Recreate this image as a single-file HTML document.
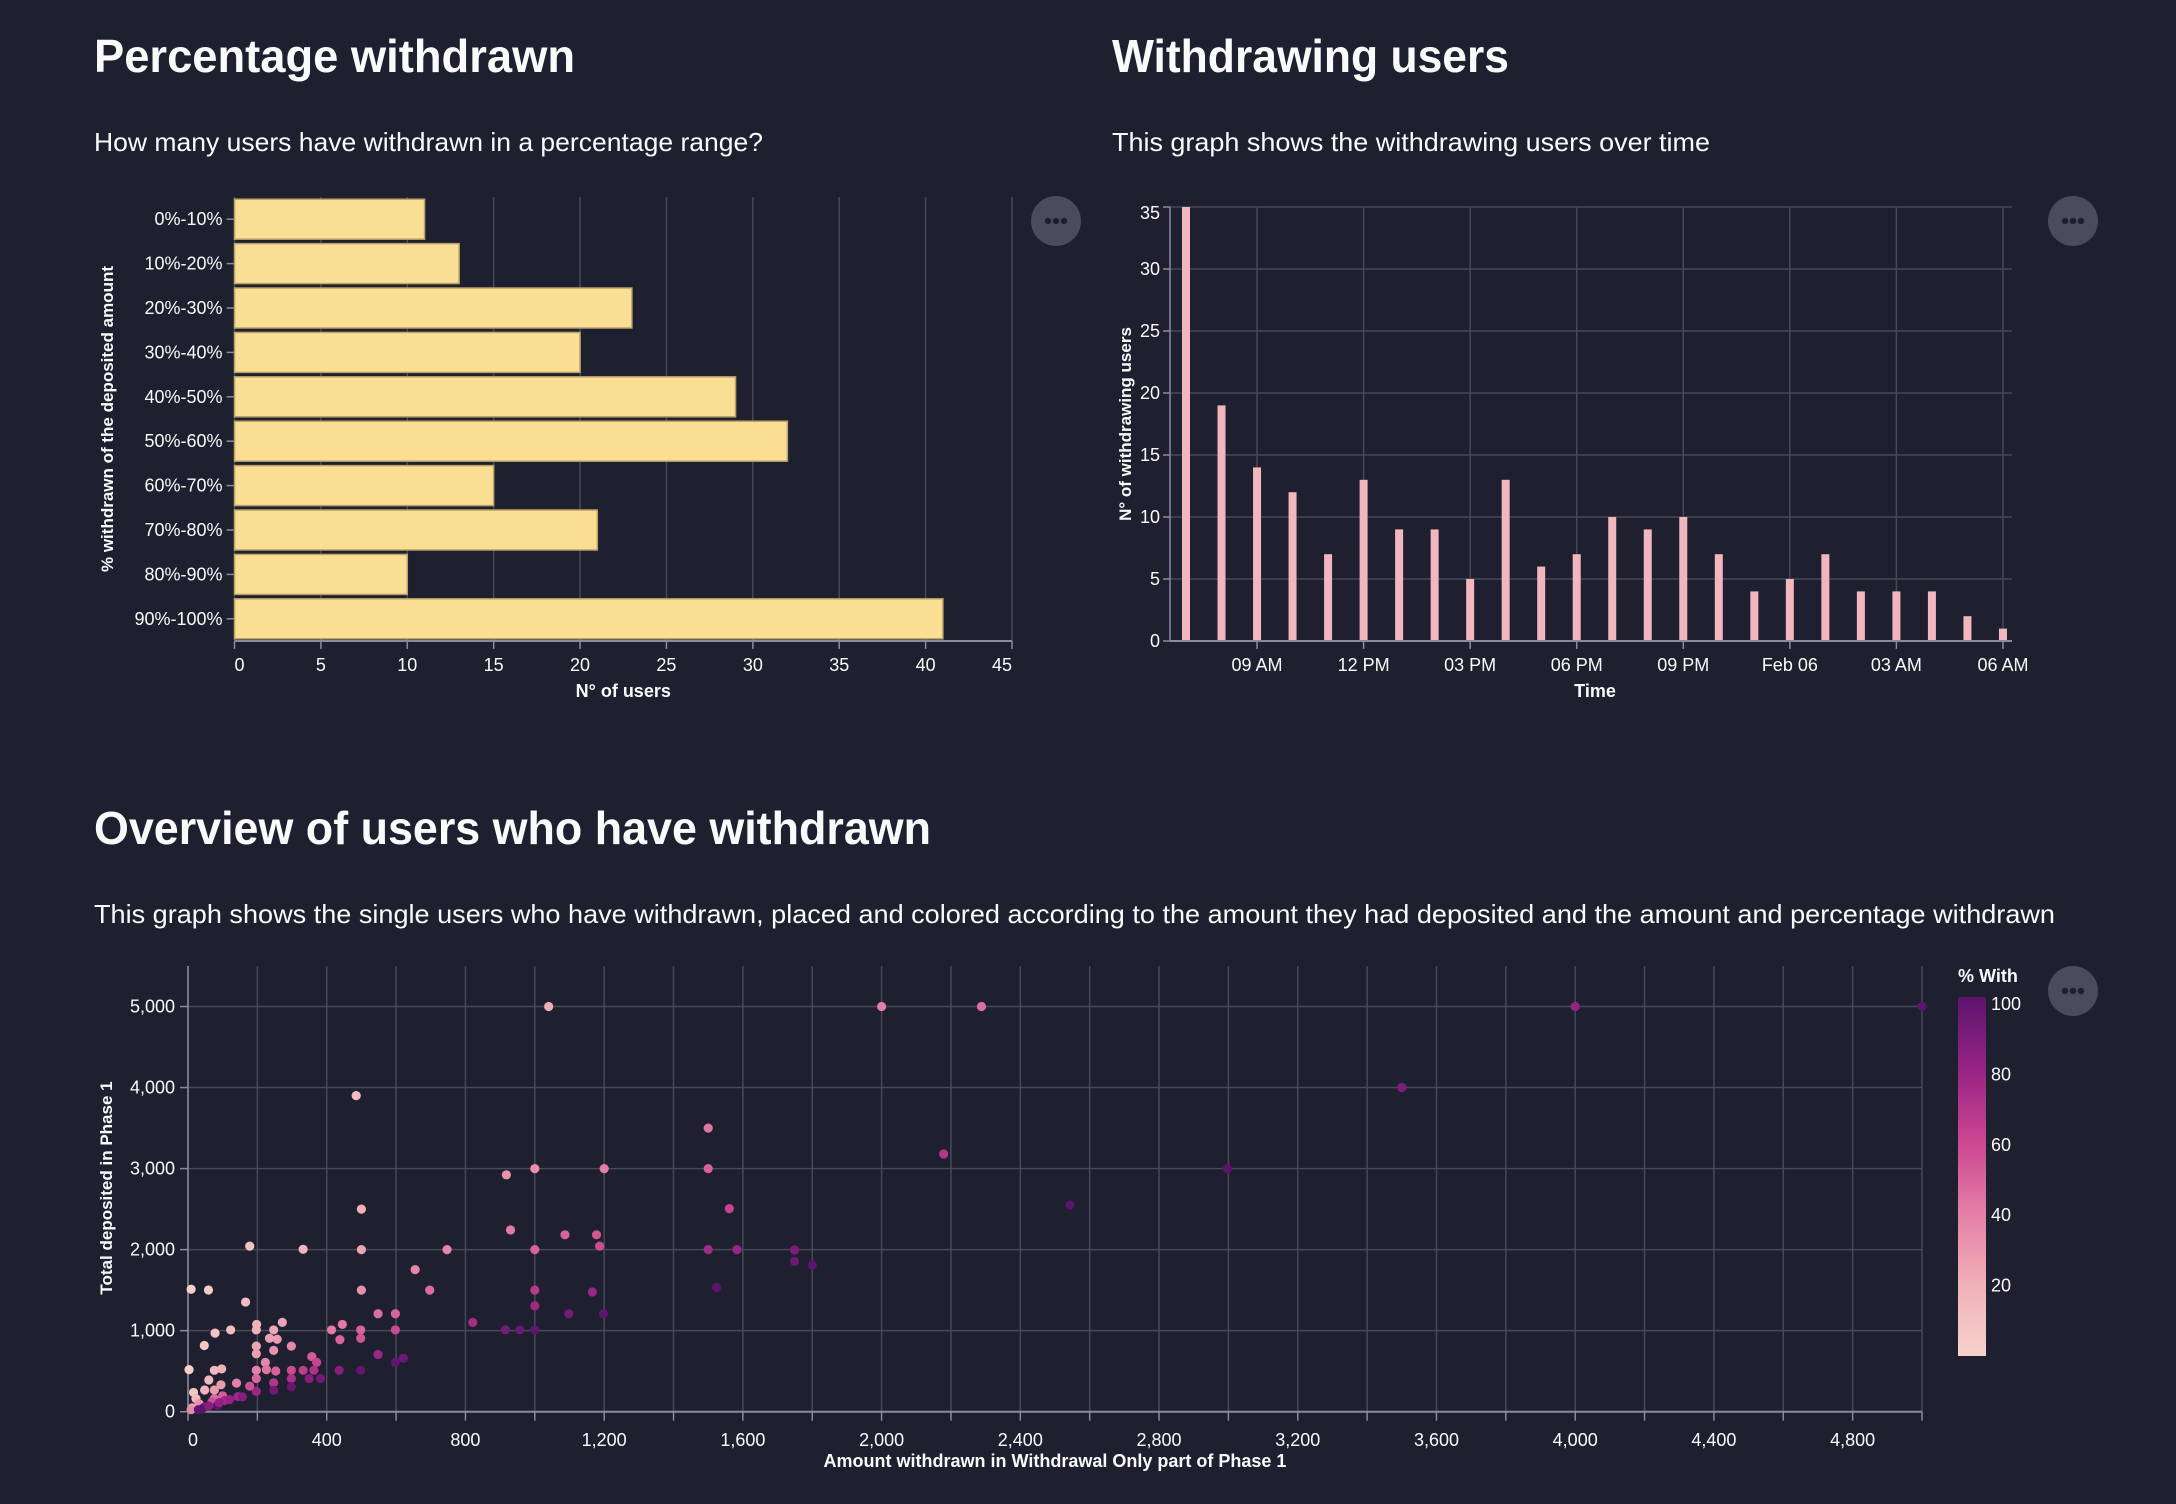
<!DOCTYPE html>
<html><head><meta charset="utf-8">
<style>
html,body{margin:0;padding:0;background:#1e1f2f;}
svg{display:block;font-family:"Liberation Sans",sans-serif;}
</style></head>
<body>
<svg id="root" width="2176" height="1504" viewBox="0 0 2176 1504" xmlns="http://www.w3.org/2000/svg">
<rect x="0" y="0" width="2176" height="1504" fill="#1e1f2f"/>
<text x="94" y="72" font-size="46" font-weight="bold" fill="#fafafa" textLength="481" lengthAdjust="spacingAndGlyphs">Percentage withdrawn</text>
<text x="94" y="151" font-size="26" fill="#fafafa" textLength="669" lengthAdjust="spacingAndGlyphs">How many users have withdrawn in a percentage range?</text>
<text x="1112" y="72" font-size="46" font-weight="bold" fill="#fafafa" textLength="397" lengthAdjust="spacingAndGlyphs">Withdrawing users</text>
<text x="1112" y="151" font-size="26" fill="#fafafa" textLength="598" lengthAdjust="spacingAndGlyphs">This graph shows the withdrawing users over time</text>
<text x="94" y="844" font-size="46" font-weight="bold" fill="#fafafa" textLength="837" lengthAdjust="spacingAndGlyphs">Overview of users who have withdrawn</text>
<text x="94" y="923" font-size="26" fill="#fafafa" textLength="1961" lengthAdjust="spacingAndGlyphs">This graph shows the single users who have withdrawn, placed and colored according to the amount they had deposited and the amount and percentage withdrawn</text>
<g id="c1"></g>
<g id="c2"></g>
<g id="c3"></g>
<g id="menus"></g>
</svg>
<script>
// ---- Chart 1 data ----
const pctCategories = ["0%-10%","10%-20%","20%-30%","30%-40%","40%-50%","50%-60%","60%-70%","70%-80%","80%-90%","90%-100%"];
const pctCounts = [11,13,23,20,29,32,15,21,10,41];
const pctTicks = [0,5,10,15,20,25,30,35,40,45];
// ---- Chart 2 data ----
const hourOffsets = [0,1,2,3,4,5,6,7,8,9,10,11,12,13,14,15,16,17,18,19,20,21,22,23];
const hourCounts = [35,19,14,12,7,13,9,9,5,13,6,7,10,9,10,7,4,5,7,4,4,4,2,1];
const timeTickHours = [2,5,8,11,14,17,20,23];
const timeTickLabels = ["09 AM","12 PM","03 PM","06 PM","09 PM","Feb 06","03 AM","06 AM"];
const countTicks = [0,5,10,15,20,25,30,35];
// ---- Chart 3 data ----
const withdrawn = [1040,485,1500,1500,1000,1200,918,500,1561,930,1087,1178,1187,178,332,500,747,1000,1500,1583,1749,1749,1800,655,9,59,500,697,1000,1166,1524,166,1000,548,598,1098,1198,821,272,445,198,123,414,498,598,915,957,1000,78,247,197,235,257,438,498,47,197,298,247,197,548,621,598,357,371,223,3,76,97,197,226,253,298,332,363,436,498,60,197,247,298,349,382,140,95,16,48,76,197,247,298,178,144,76,100,23,32,69,106,157,12,47,85,9,40,60,90,120,30,2000,2288,4000,5000,3500,2179,2997,2543];
const deposited = [5000,3900,3500,3000,3000,3000,2923,2500,2506,2243,2183,2183,2043,2043,2004,2000,2000,2000,2000,2000,1996,1855,1809,1753,1511,1502,1500,1500,1500,1477,1532,1353,1306,1209,1209,1209,1209,1102,1102,1077,1077,1009,1009,1009,1009,1009,1009,1009,970,1009,1009,906,894,889,906,817,809,809,757,715,706,660,609,680,609,609,519,511,528,511,519,502,511,511,511,511,511,391,409,357,409,409,409,353,332,238,268,268,251,264,306,315,187,162,196,162,98,119,140,183,47,55,77,26,34,70,110,150,25,5000,5000,5000,5000,4000,3180,3000,2550];
const xTicks3 = [0,400,800,1200,1600,2000,2400,2800,3200,3600,4000,4400,4800];
const yTicks3 = [0,1000,2000,3000,4000,5000];
const legendTicks = [20,40,60,80,100];

const NS="http://www.w3.org/2000/svg";
function mk(parent,tag,attrs,text){const e=document.createElementNS(NS,tag);for(const k in attrs)e.setAttribute(k,attrs[k]);if(text!==undefined)e.textContent=text;parent.appendChild(e);return e;}
const GRID="#464958", AXIS="#8a8d98", LBL="#fafafa";

// ---------- Chart 1 ----------
(function(){
const g=document.getElementById('c1');
const x0=234.5,x1=1012,yTop=197,yBot=641;
const xs=v=>x0+(v/45)*(x1-x0);
const band=(yBot-yTop)/pctCategories.length;
pctTicks.forEach(t=>{
  const l=mk(g,'line',{x1:xs(t),x2:xs(t),y1:yTop,y2:yBot,stroke:GRID,'stroke-width':1.5});
  
  
  mk(g,'line',{x1:xs(t),x2:xs(t),y1:yBot,y2:yBot+8,stroke:AXIS,'stroke-width':1.5});
  const tx=mk(g,'text',{x:xs(t),y:671,'font-size':18,fill:LBL,'text-anchor':t===0?'start':(t===45?'end':'middle')},String(t));
  
  
});
pctCategories.forEach((c,i)=>{
  const yc=yTop+band*(i+0.5);
  const r=mk(g,'rect',{x:x0,y:yc-band*0.45,width:xs(pctCounts[i])-x0,height:band*0.9,fill:'#f9de93',stroke:'#b9a36a','stroke-width':1.5});
  
  
  mk(g,'line',{x1:x0-8,x2:x0,y1:yc,y2:yc,stroke:AXIS,'stroke-width':1.5});
  const t=mk(g,'text',{x:x0-12,y:yc+6,'font-size':18,fill:LBL,'text-anchor':'end'},c);
  
  
});
const ax=mk(g,'line',{x1:x0,x2:x1,y1:yBot,y2:yBot,stroke:AXIS,'stroke-width':2});


const xt=mk(g,'text',{x:(x0+x1)/2,y:697,'font-size':18,'font-weight':'bold',fill:LBL,'text-anchor':'middle'},'N° of users');


const yt=mk(g,'text',{x:0,y:0,'font-size':17,'font-weight':'bold',fill:LBL,'text-anchor':'middle',transform:'translate(113,419) rotate(-90)'},'% withdrawn of the deposited amount');


})();

// ---------- Chart 2 ----------
(function(){
const g=document.getElementById('c2');
const xL=1170,xR=2012,yTop=207,yBot=641;
const xs=h=>1186+h*35.52;
const ys=v=>yBot-(v/35)*(yBot-yTop);
countTicks.forEach(t=>{
  const l=mk(g,'line',{x1:xL,x2:xR,y1:ys(t),y2:ys(t),stroke:GRID,'stroke-width':1.5});
  
  
  mk(g,'line',{x1:xL-7,x2:xL,y1:ys(t),y2:ys(t),stroke:AXIS,'stroke-width':1.5});
  const tx=mk(g,'text',{x:xL-10,y:ys(t)+(t===35?12:6),'font-size':18,fill:LBL,'text-anchor':'end'},String(t));
  
  
});
timeTickHours.forEach((h,i)=>{
  const l=mk(g,'line',{x1:xs(h),x2:xs(h),y1:yTop,y2:yBot,stroke:GRID,'stroke-width':1.5});
  
  
  mk(g,'line',{x1:xs(h),x2:xs(h),y1:yBot,y2:yBot+8,stroke:AXIS,'stroke-width':1.5});
  const tx=mk(g,'text',{x:xs(h),y:671,'font-size':18,fill:LBL,'text-anchor':'middle'},timeTickLabels[i]);
  
  
});
hourOffsets.forEach((h,i)=>{
  const r=mk(g,'rect',{x:xs(h)-4,y:ys(hourCounts[i]),width:8,height:yBot-ys(hourCounts[i]),fill:'#f2b6bf'});
  
  
});
mk(g,'line',{x1:xL,x2:xR,y1:yBot,y2:yBot,stroke:AXIS,'stroke-width':2});
mk(g,'line',{x1:xL,x2:xL,y1:yTop,y2:yBot,stroke:AXIS,'stroke-width':1.5});
const xt=mk(g,'text',{x:1595,y:697,'font-size':18,'font-weight':'bold',fill:LBL,'text-anchor':'middle'},'Time');


const yt=mk(g,'text',{x:0,y:0,'font-size':17,'font-weight':'bold',fill:LBL,'text-anchor':'middle',transform:'translate(1131,424) rotate(-90)'},'N° of withdrawing users');


})();

// ---------- Chart 3 ----------
const stops=[[0,[246,210,204]],[20,[240,176,184]],[40,[228,126,166]],[60,[202,70,145]],[80,[150,35,132]],[100,[92,20,110]]];
function col(p){p=Math.max(0,Math.min(100,p));for(let i=0;i<stops.length-1;i++){const a=stops[i],b=stops[i+1];if(p<=b[0]){const t=(p-a[0])/(b[0]-a[0]);const c=a[1].map((v,k)=>Math.round(v+(b[1][k]-v)*t));return 'rgb('+c.join(',')+')';}}return 'rgb(92,20,110)';}
(function(){
const g=document.getElementById('c3');
const xL=188,xR=1922,yTop=966,yBot=1411.7;
const xs=v=>xL+(v/5000)*(xR-xL);
const ys=v=>yBot-(v/5500)*(yBot-yTop);
for(let v=0;v<=5000;v+=200){
  const l=mk(g,'line',{x1:xs(v),x2:xs(v),y1:yTop,y2:yBot,stroke:GRID,'stroke-width':1.5});
  
  
  mk(g,'line',{x1:xs(v),x2:xs(v),y1:yBot,y2:yBot+9,stroke:AXIS,'stroke-width':1.5});
}
xTicks3.forEach(t=>{
  const tx=mk(g,'text',{x:xs(t),y:1446,'font-size':18,fill:LBL,'text-anchor':t===0?'start':'middle'},t.toLocaleString('en-US'));
  
  
});
yTicks3.forEach(t=>{
  const l=mk(g,'line',{x1:xL,x2:xR,y1:ys(t),y2:ys(t),stroke:GRID,'stroke-width':1.5});
  
  
  mk(g,'line',{x1:xL-8,x2:xL,y1:ys(t),y2:ys(t),stroke:AXIS,'stroke-width':1.5});
  const tx=mk(g,'text',{x:xL-13,y:ys(t)+6,'font-size':18,fill:LBL,'text-anchor':'end'},t.toLocaleString('en-US'));
  
  
});
mk(g,'line',{x1:xL,x2:xR,y1:yBot,y2:yBot,stroke:AXIS,'stroke-width':2});
mk(g,'line',{x1:xL,x2:xL,y1:yTop,y2:yBot,stroke:AXIS,'stroke-width':1.5});
withdrawn.forEach((w,i)=>{
  const d=deposited[i];
  const c=mk(g,'circle',{cx:xs(w),cy:ys(d),r:4.6,fill:col(w/d*100)});
  
  
});
const xt=mk(g,'text',{x:1055,y:1467,'font-size':18,'font-weight':'bold',fill:LBL,'text-anchor':'middle'},'Amount withdrawn in Withdrawal Only part of Phase 1');


const yt=mk(g,'text',{x:0,y:0,'font-size':17,'font-weight':'bold',fill:LBL,'text-anchor':'middle',transform:'translate(112,1188) rotate(-90)'},'Total deposited in Phase 1');


// legend
const lg=mk(g,'g',{});


const defs=mk(lg,'defs',{});
const gr=mk(defs,'linearGradient',{id:'lgd',x1:0,y1:1,x2:0,y2:0});
stops.forEach(s=>mk(gr,'stop',{offset:(s[0])+'%','stop-color':'rgb('+s[1].join(',')+')'}));
const gTop=997,gBot=1356;
const ls=v=>gBot-(v/102)*(gBot-gTop);
mk(lg,'rect',{x:1958,y:gTop,width:28,height:gBot-gTop,fill:'url(#lgd)'});
legendTicks.forEach(t=>{
  const tx=mk(lg,'text',{x:1991,y:ls(t)+6,'font-size':18,fill:LBL},String(t));
  
  
});
const lt=mk(lg,'text',{x:1958,y:982,'font-size':18,'font-weight':'bold',fill:LBL},'% With');


})();

// menu buttons
(function(){
const g=document.getElementById('menus');
[[1056,221],[2073,221],[2073,991]].forEach(p=>{
  const b=mk(g,'g',{});
  
  
  mk(b,'circle',{cx:p[0],cy:p[1],r:25,fill:'#4a4c59'});
  [-8,0,8].forEach(dx=>mk(b,'circle',{cx:p[0]+dx,cy:p[1],r:3.2,fill:'#1e1f2f'}));
});
})();
</script>
</body></html>
